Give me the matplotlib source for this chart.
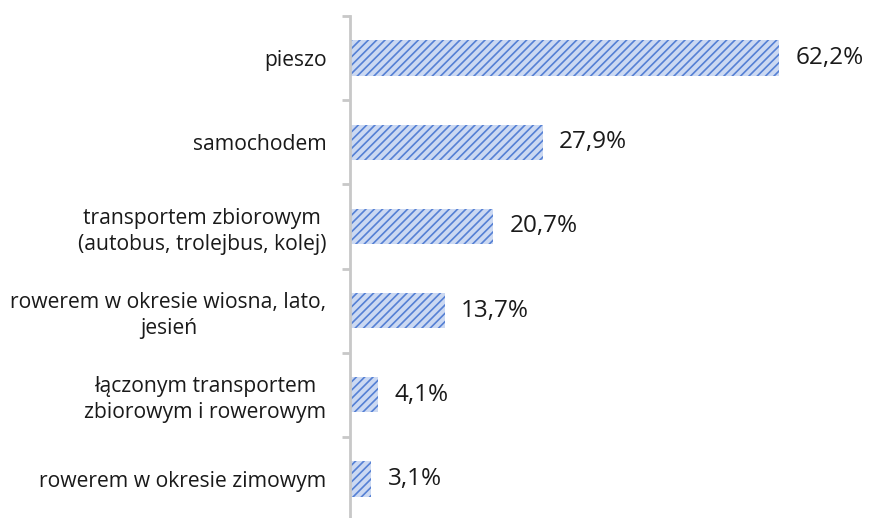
import numpy as np
import matplotlib.pyplot as plt

plt.rcParams['font.family'] = ['Open Sans', 'DejaVu Sans']
plt.rcParams['hatch.linewidth'] = 1.2
plt.rcParams['hatch.color'] = '#5580d4'

categories = [
    'pieszo',
    'samochodem',
    'transportem zbiorowym\n(autobus, trolejbus, kolej)',
    'rowerem w okresie wiosna, lato,\njesień',
    'łączonym transportem\nzbiorowym i rowerowym',
    'rowerem w okresie zimowym',
]
values = [62.2, 27.9, 20.7, 13.7, 4.1, 3.1]
value_labels = ['62,2%', '27,9%', '20,7%', '13,7%', '4,1%', '3,1%']

fig = plt.figure(figsize=(8.7, 5.18), dpi=100)
ax = fig.add_axes([350 / 870, -3 / 518, 520 / 870, 505 / 518])

y = np.arange(len(categories))[::-1]
ax.barh(y, values, height=0.42, color='#ccd9f2', edgecolor='#5580d4',
        linewidth=0, hatch='////')

for yi, v, lab in zip(y, values, value_labels):
    ax.text(v + 2.4, yi, lab, va='center', ha='left', fontsize=17.5, color='#1a1a1a')

ax.set_xlim(0, 520 / 6.9)
ax.set_ylim(-0.5, len(categories) - 0.5)

for s in ['top', 'right', 'bottom']:
    ax.spines[s].set_visible(False)
ax.spines['left'].set_color('#c8c8c8')
ax.spines['left'].set_linewidth(2)

ax.set_xticks([])
ax.set_yticks(np.arange(-0.5, len(categories), 1.0))
ax.set_yticklabels([])
ax.tick_params(axis='y', which='major', length=6, width=2, color='#c8c8c8')
ax.set_yticks(y, minor=True)
ax.set_yticklabels(categories, minor=True, fontsize=15.2, color='#1a1a1a',
                   multialignment='center', linespacing=1.3)
ax.tick_params(axis='y', which='minor', length=0, pad=17)

fig.savefig('out.png', dpi=100)
